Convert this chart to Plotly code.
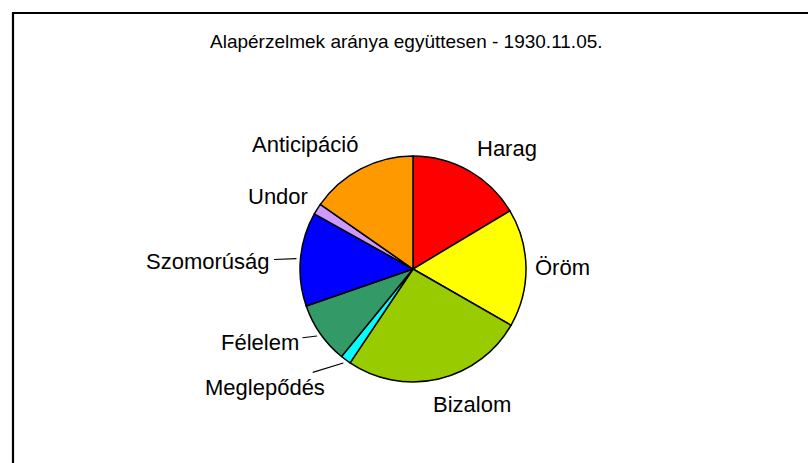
import math
import plotly.graph_objects as go

# Emotion categories and their shares (%)
labels = ["Harag", "Öröm", "Bizalom", "Meglepődés", "Félelem",
          "Szomorúság", "Undor", "Anticipáció"]
values = [16.4, 16.9, 26.1, 1.5, 8.8, 13.4, 1.6, 15.3]
colors = ["#FF0000", "#FFFF00", "#99CC00", "#00FFFF", "#339966",
          "#0000FF", "#CC99FF", "#FF9900"]
title_text = "Alapérzelmek aránya együttesen - 1930.11.05."

# Canvas and pie geometry (pixels)
W, H = 808, 463
CX, CY, R = 413, 269, 113

# Label placement: pixel offset of the label centre from the slice edge point,
# and whether a leader line is drawn
label_offsets = [(38, -22), (37, 0), (33, 25), (-78, 24), (-57, 7),
                 (-88, 3), (-39, -13), (-56, -24)]
leader = [False, False, False, True, True, True, False, False]

FONT = "Liberation Sans, Arial, sans-serif"
LABEL_SIZE = 22
TITLE_SIZE = 19

fig = go.Figure(go.Pie(
    labels=labels,
    values=values,
    sort=False,
    direction="clockwise",
    rotation=0,
    marker=dict(colors=colors, line=dict(color="black", width=1.5)),
    textinfo="none",
    hoverinfo="label+percent",
    showlegend=False,
    domain=dict(x=[(CX - R) / W, (CX + R) / W],
                y=[(H - CY - R) / H, (H - CY + R) / H]),
))

def to_paper(px, py):
    return px / W, 1 - py / H

annotations = []
total = sum(values)
cum = 0.0
for lab, val, (dx, dy), lead in zip(labels, values, label_offsets, leader):
    mid = (cum + val / 2) / total * 2 * math.pi
    cum += val
    if lead:
        tx = CX + (R + 4) * math.sin(mid)
        ty = CY - (R + 4) * math.cos(mid)
        x, y = to_paper(tx, ty)
        annotations.append(dict(
            x=x, y=y, xref="paper", yref="paper", text=lab,
            showarrow=True, ax=dx, ay=dy, arrowhead=0, arrowwidth=1.2,
            arrowcolor="black", standoff=0, startstandoff=2,
            font=dict(family=FONT, size=LABEL_SIZE, color="black"),
        ))
    else:
        ex = CX + R * math.sin(mid)
        ey = CY - R * math.cos(mid)
        x, y = to_paper(ex + dx, ey + dy)
        annotations.append(dict(
            x=x, y=y, xref="paper", yref="paper", text=lab,
            showarrow=False, xanchor="center", yanchor="middle",
            font=dict(family=FONT, size=LABEL_SIZE, color="black"),
        ))

tx, ty = to_paper(406, 42)
annotations.append(dict(
    x=tx, y=ty, xref="paper", yref="paper", text=title_text,
    showarrow=False, xanchor="center", yanchor="middle",
    font=dict(family=FONT, size=TITLE_SIZE, color="black"),
))

fig.update_layout(
    width=W, height=H,
    margin=dict(l=0, r=0, t=0, b=0),
    paper_bgcolor="white",
    plot_bgcolor="white",
    annotations=annotations,
    shapes=[dict(type="rect", xref="paper", yref="paper",
                 x0=13 / W, y0=-0.05, x1=1.05, y1=1 - 13 / H,
                 line=dict(color="black", width=2.2))],
)

fig.write_html("out.html")
